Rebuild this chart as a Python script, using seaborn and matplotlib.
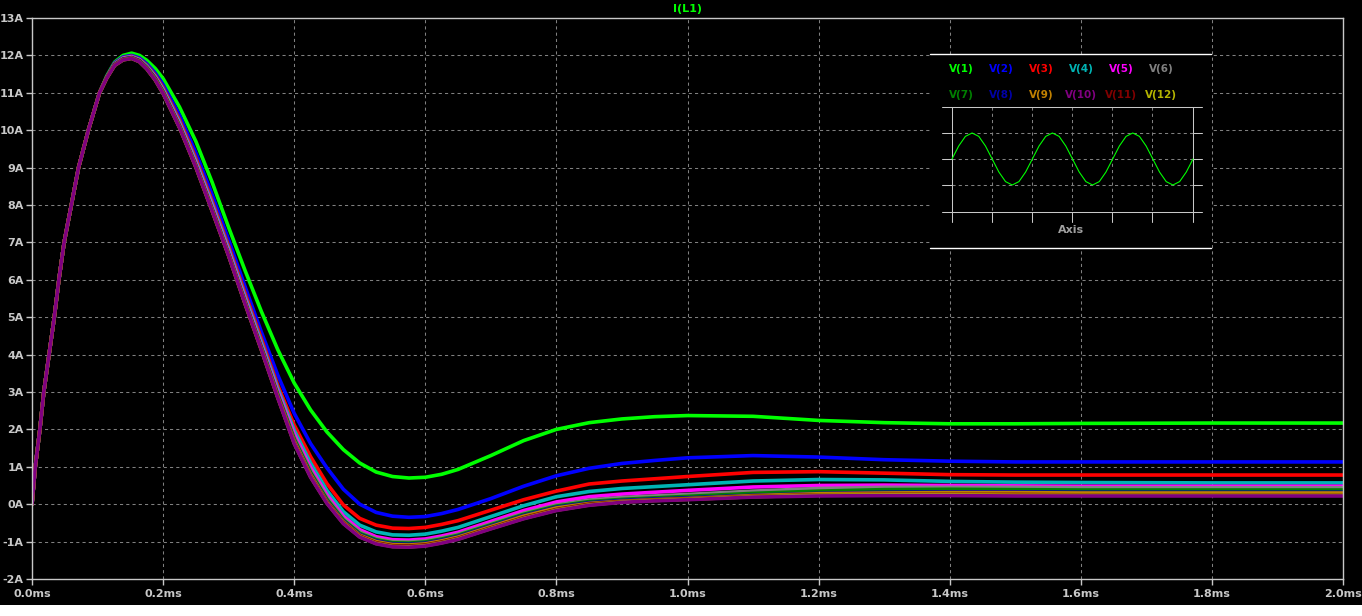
import numpy as np
import pandas as pd
import matplotlib.pyplot as plt
from matplotlib.patches import Rectangle
import seaborn as sns

# LTspice style: black background, dashed grey grid
sns.set_theme(style="dark")
plt.rcParams['font.family'] = ['DejaVu Sans']

# --- values (time in ms, current in A) ---
# common rising edge, every trace lies on the same line here
rise_t = [0, 0.005, 0.012, 0.018, 0.026, 0.034, 0.041, 0.049, 0.060, 0.071, 0.086, 0.103]
rise_i = [0, 1.0, 2.0, 3.0, 4.0, 5.0, 6.0, 7.0, 8.0, 9.0, 10.0, 11.0]

tail_t = [0.114, 0.126, 0.139, 0.152, 0.164, 0.175, 0.188,
          0.2, 0.225, 0.25, 0.275, 0.3, 0.325, 0.35, 0.375, 0.4, 0.425, 0.45, 0.475, 0.5,
          0.525, 0.55, 0.575, 0.6, 0.625, 0.65, 0.7, 0.75, 0.8, 0.85, 0.9, 0.95, 1.0,
          1.1, 1.2, 1.3, 1.4, 1.5, 1.6, 1.8, 2.0]

v1 = [11.45, 11.82, 12.00, 12.06, 12.00, 11.87, 11.65,
      11.38, 10.62, 9.70, 8.60, 7.40, 6.25, 5.15, 4.13, 3.24, 2.52, 1.93, 1.46, 1.10,
      0.86, 0.74, 0.70, 0.72, 0.80, 0.93, 1.30, 1.70, 2.00, 2.18, 2.28, 2.34, 2.37,
      2.35, 2.24, 2.18, 2.15, 2.15, 2.16, 2.17, 2.17]
v2 = [11.43, 11.80, 11.96, 12.00, 11.93, 11.78, 11.53,
      11.22, 10.40, 9.40, 8.27, 7.07, 5.82, 4.60, 3.45, 2.43, 1.62, 0.97, 0.40, 0.00,
      -0.22, -0.32, -0.35, -0.33, -0.25, -0.14, 0.15, 0.48, 0.76, 0.96, 1.09, 1.17, 1.24,
      1.30, 1.26, 1.19, 1.15, 1.13, 1.13, 1.13, 1.13]
v3 = [11.42, 11.78, 11.94, 11.98, 11.90, 11.74, 11.47,
      11.14, 10.28, 9.25, 8.10, 6.90, 5.64, 4.42, 3.18, 2.12, 1.27, 0.55, -0.02, -0.38,
      -0.56, -0.64, -0.65, -0.62, -0.54, -0.44, -0.16, 0.12, 0.35, 0.54, 0.62, 0.68, 0.74,
      0.85, 0.87, 0.83, 0.79, 0.78, 0.78, 0.78, 0.78]
v4 = [11.42, 11.77, 11.93, 11.97, 11.89, 11.72, 11.44,
      11.10, 10.22, 9.18, 8.03, 6.83, 5.56, 4.33, 3.10, 1.98, 1.10, 0.37, -0.20, -0.56,
      -0.74, -0.82, -0.83, -0.80, -0.72, -0.62, -0.33, -0.04, 0.20, 0.34, 0.42, 0.47, 0.52,
      0.62, 0.66, 0.65, 0.61, 0.59, 0.58, 0.57, 0.57]
v5 = [11.41, 11.76, 11.92, 11.96, 11.88, 11.70, 11.42,
      11.07, 10.18, 9.13, 7.97, 6.77, 5.50, 4.26, 3.03, 1.88, 0.98, 0.25, -0.32, -0.68,
      -0.87, -0.95, -0.96, -0.93, -0.85, -0.75, -0.46, -0.17, 0.06, 0.20, 0.27, 0.32, 0.37,
      0.46, 0.50, 0.51, 0.50, 0.49, 0.48, 0.48, 0.48]
v6 = [11.41, 11.76, 11.91, 11.95, 11.87, 11.69, 11.40,
      11.05, 10.15, 9.09, 7.92, 6.72, 5.45, 4.22, 2.97, 1.80, 0.90, 0.18, -0.38, -0.74,
      -0.92, -1.00, -1.01, -0.98, -0.90, -0.80, -0.52, -0.24, -0.02, 0.11, 0.18, 0.22, 0.26,
      0.35, 0.42, 0.45, 0.45, 0.45, 0.44, 0.44, 0.44]
v7 = [11.40, 11.75, 11.90, 11.94, 11.86, 11.68, 11.39,
      11.03, 10.12, 9.06, 7.89, 6.69, 5.42, 4.19, 2.93, 1.75, 0.85, 0.13, -0.42, -0.78,
      -0.95, -1.03, -1.04, -1.01, -0.93, -0.83, -0.55, -0.27, -0.05, 0.07, 0.13, 0.17, 0.21,
      0.29, 0.35, 0.39, 0.40, 0.39, 0.38, 0.38, 0.38]
v8 = [11.40, 11.75, 11.90, 11.94, 11.85, 11.67, 11.37,
      11.01, 10.10, 9.04, 7.86, 6.67, 5.39, 4.17, 2.90, 1.71, 0.81, 0.09, -0.45, -0.81,
      -0.98, -1.06, -1.07, -1.04, -0.96, -0.86, -0.58, -0.30, -0.08, 0.04, 0.10, 0.14, 0.17,
      0.24, 0.29, 0.32, 0.33, 0.33, 0.32, 0.32, 0.32]
v9 = [11.40, 11.74, 11.89, 11.93, 11.84, 11.66, 11.36,
      11.00, 10.09, 9.03, 7.85, 6.66, 5.38, 4.15, 2.88, 1.69, 0.79, 0.07, -0.47, -0.83,
      -1.00, -1.08, -1.09, -1.06, -0.98, -0.88, -0.60, -0.32, -0.10, 0.02, 0.08, 0.12, 0.15,
      0.23, 0.28, 0.30, 0.31, 0.31, 0.30, 0.30, 0.30]
v10 = [11.39, 11.73, 11.88, 11.92, 11.83, 11.64, 11.34,
       10.98, 10.07, 9.01, 7.83, 6.64, 5.36, 4.12, 2.84, 1.62, 0.72, 0.02, -0.52, -0.88,
       -1.06, -1.14, -1.15, -1.12, -1.04, -0.94, -0.66, -0.39, -0.17, -0.03, 0.05, 0.09, 0.12,
       0.19, 0.22, 0.23, 0.23, 0.22, 0.22, 0.22, 0.22]
v11 = [11.40, 11.74, 11.89, 11.93, 11.84, 11.65, 11.35,
       10.99, 10.08, 9.02, 7.84, 6.65, 5.37, 4.13, 2.86, 1.65, 0.75, 0.05, -0.49, -0.85,
       -1.03, -1.11, -1.12, -1.09, -1.01, -0.91, -0.63, -0.36, -0.14, 0.00, 0.07, 0.11, 0.14,
       0.21, 0.25, 0.26, 0.26, 0.26, 0.25, 0.25, 0.25]
v12 = [11.39, 11.73, 11.88, 11.92, 11.83, 11.64, 11.34,
       10.98, 10.07, 9.01, 7.83, 6.64, 5.36, 4.12, 2.85, 1.63, 0.73, 0.03, -0.51, -0.87,
       -1.05, -1.13, -1.14, -1.11, -1.03, -0.93, -0.65, -0.38, -0.16, -0.02, 0.06, 0.10, 0.13,
       0.20, 0.24, 0.25, 0.25, 0.24, 0.24, 0.24, 0.24]

names = ["V(1)", "V(2)", "V(3)", "V(4)", "V(5)", "V(6)",
         "V(7)", "V(8)", "V(9)", "V(10)", "V(11)", "V(12)"]
tails = [v1, v2, v3, v4, v5, v6, v7, v8, v9, v10, v11, v12]
colors = ["#00ff00", "#0000ff", "#ff0000", "#00b4b4", "#ff00ff", "#808080",
          "#008000", "#0000a8", "#c08000", "#800080", "#800000", "#b4b400"]

x_ticks = [0.0, 0.2, 0.4, 0.6, 0.8, 1.0, 1.2, 1.4, 1.6, 1.8, 2.0]
x_labels = ["0.0ms", "0.2ms", "0.4ms", "0.6ms", "0.8ms", "1.0ms",
            "1.2ms", "1.4ms", "1.6ms", "1.8ms", "2.0ms"]
y_ticks = list(range(-2, 14))
y_labels = [f"{v}A" for v in y_ticks]

# the little sine in the legend box, one period sampled by eye
wave = [0, 0.5, 0.87, 1, 0.87, 0.5, 0, -0.5, -0.87, -1, -0.87, -0.5]

rows = []
for name, tail in zip(names, tails):
    for t, i in zip(rise_t + tail_t, rise_i + tail):
        rows.append({"t": t, "i": i, "trace": name})
df = pd.DataFrame(rows)

# purple is the last trace drawn in the screenshot
order = names[:9] + ["V(11)", "V(12)", "V(10)"]
pal = dict(zip(names, colors))

W, H = 1362, 616
fig = plt.figure(figsize=(W / 100, H / 100), dpi=100, facecolor="white")
fig.patches.append(Rectangle((0, 11 / H), 1, 605 / H, transform=fig.transFigure,
                             facecolor="black", edgecolor="none", zorder=-10))

ax = fig.add_axes([32 / W, 37 / H, 1311 / W, 561 / H])
ax.set_facecolor("black")
ax.set_axisbelow(True)
ax.grid(True, color="#808080", linestyle=(0, (3, 3)), linewidth=0.75)

sns.lineplot(data=df, x="t", y="i", hue="trace", hue_order=order, palette=pal,
             linewidth=2.6, estimator=None, legend=False, ax=ax)

ax.set_xlim(0, 2)
ax.set_ylim(-2, 13)
ax.set_xticks(x_ticks)
ax.set_xticklabels(x_labels)
ax.set_yticks(y_ticks)
ax.set_yticklabels(y_labels)
ax.set_xlabel("")
ax.set_ylabel("")
ax.tick_params(colors="#c8c8c8", length=4.5, width=1, labelsize=8, pad=1.5,
               bottom=True, left=True)
ax.tick_params(axis="x", pad=3)
for lab in ax.get_xticklabels() + ax.get_yticklabels():
    lab.set_fontweight("bold")
for sp in ax.spines.values():
    sp.set_visible(True)
    sp.set_color("#c8c8c8")
    sp.set_linewidth(1)

fig.text(687 / W, 1 - 9 / H, "I(L1)", color="#00ff00", fontsize=8,
         fontweight="bold", ha="center", va="center")

# legend box drawn in pixel coordinates on top of the plot
lax = fig.add_axes([0, 0, 1, 1])
lax.set_xlim(0, W)
lax.set_ylim(H, 0)
lax.axis("off")
lax.patch.set_alpha(0)

lax.add_patch(Rectangle((930, 54), 281, 194, facecolor="black", edgecolor="none"))
lax.plot([930, 1211], [54, 54], color="white", lw=1)
lax.plot([930, 1211], [248, 248], color="white", lw=1)

for k, (name, col) in enumerate(zip(names, colors)):
    lax.text(961 + 40 * (k % 6), 69 + 26 * (k // 6), name, color=col, fontsize=7.5,
             fontweight="bold", ha="center", va="center")

frame = "#c8c8c8"
for gy in [133, 159, 185]:
    lax.plot([952, 1193], [gy, gy], color="#808080", lw=0.75, ls=(0, (3, 3)))
    lax.plot([942, 952], [gy, gy], color=frame, lw=0.75)
    lax.plot([1193, 1202], [gy, gy], color=frame, lw=0.75)
for gx in [992, 1032, 1072, 1112, 1152]:
    lax.plot([gx, gx], [107, 212], color="#808080", lw=0.75, ls=(0, (3, 3)))
    lax.plot([gx, gx], [212, 222], color=frame, lw=0.75)
lax.plot([942, 1202], [107, 107], color=frame, lw=0.75)
lax.plot([942, 1202], [212, 212], color=frame, lw=0.75)
lax.plot([952, 952], [107, 222], color=frame, lw=0.75)
lax.plot([1193, 1193], [107, 222], color=frame, lw=0.75)

wy = wave * 3 + [0]
wx = np.linspace(952, 1193, len(wy))
lax.plot(wx, [159 - 26 * w for w in wy], color="#00ff00", lw=0.8)
lax.text(1071, 230, "Axis", color="#a0a0a0", fontsize=8, fontweight="bold",
         ha="center", va="center")

fig.savefig("out.png", dpi=100, facecolor=fig.get_facecolor())
